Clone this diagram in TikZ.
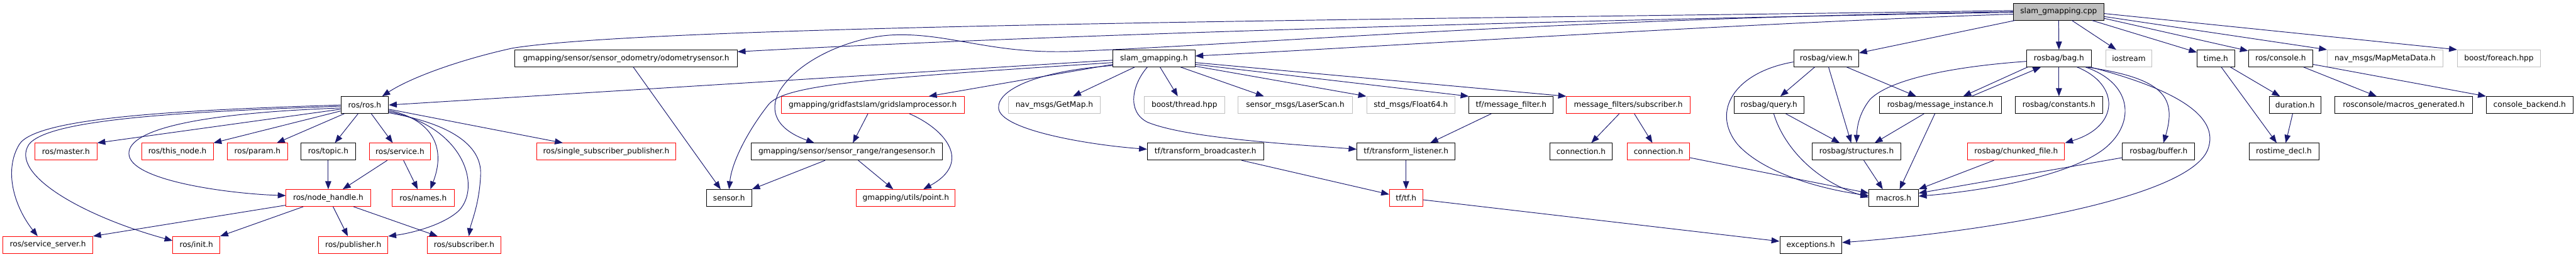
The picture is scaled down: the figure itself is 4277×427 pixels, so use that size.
\documentclass[tikz,border=0pt]{standalone}
\usepackage{fontspec}
\setmainfont{DejaVu Sans}
\usepackage{tikz}
\usetikzlibrary{arrows.meta, calc}

\definecolor{edgeblue}{HTML}{191970}
\definecolor{lightgrey}{HTML}{BFBFBF}

\begin{document}
\begin{tikzpicture}[
    x=0.75pt, y=-0.75pt,
    box/.style={rectangle, draw=black, line width=0.75pt, fill=white, minimum height=21pt, inner sep=2pt, font=\fontsize{9.5pt}{11pt}\selectfont},
    file/.style={box},
    redfile/.style={box, draw=red},
    extfile/.style={box, draw=lightgrey},
    mainfile/.style={box, fill=lightgrey},
    wd/.style={minimum width=#1*0.75pt},
    arrow/.style={-{Triangle[length=10pt, width=7.5pt]}, draw=edgeblue, line width=0.75pt}
]
    \useasboundingbox (0,0) rectangle (4277,427);

    % row 0
    \node[mainfile, wd=150] (slamcpp) at (3418,19.5) {slam\_gmapping.cpp};

    % row 1
    \node[file, wd=369] (odometry) at (1039.5,97) {gmapping/sensor/sensor\_odometry/odometrysensor.h};
    \node[file, wd=136] (slamh) at (1916,97) {slam\_gmapping.h};
    \node[file, wd=108] (view) at (3032,97) {rosbag/view.h};
    \node[file, wd=107] (bag) at (3418.5,97) {rosbag/bag.h};
    \node[extfile, wd=77] (iostream) at (3534.5,97) {iostream};
    \node[file, wd=62] (time) at (3679,97) {time.h};
    \node[file, wd=107] (console) at (3786.5,97) {ros/console.h};
    \node[extfile, wd=192] (mapmeta) at (3960,97) {nav\_msgs/MapMetaData.h};
    \node[extfile, wd=138] (foreach) at (4149,97) {boost/foreach.hpp};

    % row 2
    \node[file, wd=79] (rosh) at (605.5,174.5) {ros/ros.h};
    \node[redfile, wd=304] (gridslam) at (1449,174.5) {gmapping/gridfastslam/gridslamprocessor.h};
    \node[extfile, wd=153] (getmap) at (1750.5,174.5) {nav\_msgs/GetMap.h};
    \node[extfile, wd=133] (thread) at (1966.5,174.5) {boost/thread.hpp};
    \node[extfile, wd=191] (laserscan) at (2150.5,174.5) {sensor\_msgs/LaserScan.h};
    \node[extfile, wd=147] (float) at (2342.5,174.5) {std\_msgs/Float64.h};
    \node[file, wd=140] (msgfilter) at (2509,174.5) {tf/message\_filter.h};
    \node[redfile, wd=205] (mfsub) at (2703.5,174.5) {message\_filters/subscriber.h};
    \node[file, wd=116] (query) at (2937,174.5) {rosbag/query.h};
    \node[file, wd=203] (msginst) at (3221.5,174.5) {rosbag/message\_instance.h};
    \node[file, wd=145] (constants) at (3418.5,174.5) {rosbag/constants.h};
    \node[file, wd=85] (duration) at (3810.5,174.5) {duration.h};
    \node[file, wd=228] (macrosgen) at (3991,174.5) {rosconsole/macros\_generated.h};
    \node[file, wd=144] (backend) at (4200,174.5) {console\_backend.h};

    % row 3
    \node[redfile, wd=103] (master) at (109.5,252) {ros/master.h};
    \node[redfile, wd=119] (thisnode) at (294.5,252) {ros/this\_node.h};
    \node[redfile, wd=101] (param) at (427.5,252) {ros/param.h};
    \node[file, wd=90] (topic) at (545,252) {ros/topic.h};
    \node[redfile, wd=102] (service) at (664,252) {ros/service.h};
    \node[redfile, wd=231] (ssp) at (1006.5,252) {ros/single\_subscriber\_publisher.h};
    \node[file, wd=318] (range) at (1406,252) {gmapping/sensor/sensor\_range/rangesensor.h};
    \node[file, wd=193] (broadcaster) at (2001.5,252) {tf/transform\_broadcaster.h};
    \node[file, wd=163] (listener) at (2334.5,252) {tf/transform\_listener.h};
    \node[file, wd=104] (conn) at (2625,252) {connection.h};
    \node[redfile, wd=103] (connred) at (2753.5,252) {connection.h};
    \node[file, wd=147] (structures) at (3082.5,252) {rosbag/structures.h};
    \node[redfile, wd=161] (chunked) at (3347.5,252) {rosbag/chunked\_file.h};
    \node[file, wd=120] (buffer) at (3584,252) {rosbag/buffer.h};
    \node[file, wd=116] (rostime) at (3792,252) {rostime\_decl.h};

    % row 4
    \node[redfile, wd=140] (nodehandle) at (545,329) {ros/node\_handle.h};
    \node[redfile, wd=103] (names) at (702.5,329) {ros/names.h};
    \node[file, wd=75] (sensor) at (1210.5,329) {sensor.h};
    \node[redfile, wd=164] (point) at (1504,329) {gmapping/utils/point.h};
    \node[redfile, wd=55] (tf) at (2334.5,329) {tf/tf.h};
    \node[file, wd=82] (macros) at (3144,329) {macros.h};

    % row 5
    \node[redfile, wd=149] (srvserver) at (79.5,407) {ros/service\_server.h};
    \node[redfile, wd=78] (init) at (326,407) {ros/init.h};
    \node[redfile, wd=115] (publisher) at (586.5,407) {ros/publisher.h};
    \node[redfile, wd=123] (subscriber) at (770.5,407) {ros/subscriber.h};
    \node[file, wd=103] (exceptions) at (3006.5,407) {exceptions.h};

    % includes of slam_gmapping.cpp
    \draw[arrow] ($(slamcpp.west)+(0,-2)$) .. controls (2400,32) and (1100,40) .. (851,80) .. controls (760,100) and (680,130) .. ($(rosh.north)+(29,0)$);
    \draw[arrow] ($(slamcpp.west)+(0,1)$) .. controls (2500,35) and (1700,60) .. ($(odometry.east)+(0,-11)$);
    \draw[arrow] (slamcpp.west) .. controls (2600,30) and (2050,75) .. (1790,85) .. controls (1650,92) and (1580,55) .. (1486,58) .. controls (1420,60) and (1330,95) .. (1295,150) .. controls (1275,185) and (1290,215) .. ($(range.north)+(-54,0)$);
    \draw[arrow] ($(slamcpp.west)+(0,4)$) .. controls (2900,38) and (2250,80) .. ($(slamh.east)+(0,-4)$);
    \draw[arrow] ($(slamcpp.south west)+(3,0)$) -- ($(view.east)+(0,-9)$);
    \draw[arrow] (slamcpp.south) -- (bag.north);
    \draw[arrow] ($(slamcpp.south)+(22,0)$) -- ($(iostream.north)+(-21,0)$);
    \draw[arrow] ($(slamcpp.south east)+(-20,0)$) -- ($(time.west)+(0,-10)$);
    \draw[arrow] ($(slamcpp.east)+(0,11)$) -- ($(console.north west)+(0,2)$);
    \draw[arrow] ($(slamcpp.east)+(0,8)$) -- (mapmeta.north west);
    \draw[arrow] ($(slamcpp.east)+(0,3)$) -- (foreach.north west);

    % includes of slam_gmapping.h
    \draw[arrow] ($(slamh.west)+(0,3)$) -- (rosh.east);
    \draw[arrow] ($(slamh.west)+(0,7)$) .. controls (1450,130) and (1300,140) .. (1275,175) .. controls (1240,220) and (1215,270) .. (sensor.north);
    \draw[arrow] ($(slamh.west)+(0,10)$) -- ($(gridslam.north)+(93,0)$);
    \draw[arrow] ($(slamh.west)+(0,12)$) .. controls (1720,118) and (1655,150) .. (1658,180) .. controls (1661,215) and (1800,240) .. ($(broadcaster.west)+(0,-4)$);
    \draw[arrow] ($(slamh.south)+(-32,0)$) -- ($(getmap.north)+(31,0)$);
    \draw[arrow] ($(slamh.south)+(10,0)$) -- ($(thread.north)+(-11,0)$);
    \draw[arrow] ($(slamh.south)+(44,0)$) -- ($(laserscan.north)+(-52,0)$);
    \draw[arrow] ($(slamh.south)+(-11,0)$) .. controls (1880,140) and (1870,185) .. (1905,203) .. controls (1970,230) and (2150,240) .. ($(listener.west)+(0,-4)$);
    \draw[arrow] ($(slamh.east)+(0,13)$) -- (float.north west);
    \draw[arrow] ($(slamh.east)+(0,10)$) -- (msgfilter.north west);
    \draw[arrow] ($(slamh.east)+(0,7)$) -- (mfsub.north west);

    % gmapping
    \draw[arrow] ($(gridslam.south)+(-8,0)$) -- ($(range.north)+(10,0)$);
    \draw[arrow] ($(gridslam.south)+(61,0)$) .. controls (1570,215) and (1615,270) .. ($(point.north)+(29,0)$);
    \draw[arrow] ($(range.south)+(19,0)$) -- ($(point.north)+(-21,0)$);
    \draw[arrow] ($(range.south)+(-36,0)$) -- (sensor.north east);
    \draw[arrow] ($(odometry.south)+(12,0)$) -- ($(sensor.north)+(-14,0)$);

    % tf and message_filters
    \draw[arrow] ($(broadcaster.south)+(60,0)$) -- ($(tf.west)+(0,-6)$);
    \draw[arrow] (listener) -- (tf);
    \draw[arrow] ($(msgfilter.south)+(-33,0)$) -- ($(listener.north)+(40,0)$);
    \draw[arrow] ($(mfsub.south)+(-15,0)$) -- ($(conn.north)+(17,0)$);
    \draw[arrow] ($(mfsub.south)+(10,0)$) -- ($(connred.north)+(-10,0)$);
    \draw[arrow] ($(connred.east)+(0,10)$) -- ($(macros.west)+(0,-8)$);
    \draw[arrow] ($(tf.east)+(0,3)$) -- ($(exceptions.west)+(0,-6)$);

    % rosbag
    \draw[arrow] ($(view.south)+(-19,0)$) -- ($(query.north)+(19,0)$);
    \draw[arrow] ($(view.south)+(4,0)$) -- ($(structures.north)+(-9,0)$);
    \draw[arrow] ($(view.south)+(34,0)$) -- ($(msginst.north)+(-40,0)$);
    \draw[arrow] ($(view.west)+(0,6)$) .. controls (2880,120) and (2840,185) .. (2885,240) .. controls (2930,290) and (3030,315) .. ($(macros.west)+(0,-4)$);
    \draw[arrow] ($(query.south)+(28,0)$) -- ($(structures.north)+(-28,0)$);
    \draw[arrow] ($(query.south)+(8,0)$) .. controls (2960,240) and (3010,300) .. ($(macros.west)+(0,-1)$);
    \draw[arrow] ($(msginst.south)+(-27,0)$) -- ($(structures.north)+(30,0)$);
    \draw[arrow] ($(msginst.south)+(-9,0)$) -- ($(macros.north)+(10,0)$);
    \draw[arrow] ($(msginst.north)+(52,0)$) -- ($(bag.south)+(-30,0)$);
    \draw[arrow] ($(structures.south)+(12,0)$) -- ($(macros.north)+(-18,0)$);
    \draw[arrow] ($(bag.south west)+(2,0)$) -- ($(msginst.north)+(38,0)$);
    \draw[arrow] ($(bag.west)+(0,5)$) .. controls (3250,110) and (3140,130) .. (3105,165) .. controls (3085,190) and (3083,215) .. (structures.north);
    \draw[arrow] (bag) -- (constants);
    \draw[arrow] ($(bag.south)+(30,0)$) .. controls (3520,140) and (3520,210) .. (chunked.north east);
    \draw[arrow] ($(bag.south)+(44,0)$) .. controls (3545,140) and (3545,210) .. (3490,250) .. controls (3420,300) and (3260,320) .. ($(macros.east)+(0,-3)$);
    \draw[arrow] ($(bag.south east)+(-8,0)$) .. controls (3590,130) and (3615,160) .. ($(buffer.north)+(8,0)$);
    \draw[arrow] ($(bag.south east)+(-2,0)$) .. controls (3600,145) and (3690,190) .. (3665,250) .. controls (3630,330) and (3300,385) .. ($(exceptions.east)+(0,-4)$);
    \draw[arrow] ($(chunked.south)+(-37,0)$) -- (macros.north east);
    \draw[arrow] ($(buffer.west)+(0,10)$) -- ($(macros.east)+(0,-8)$);

    % time and console
    \draw[arrow] ($(time.south)+(24,0)$) -- ($(duration.north)+(-25,0)$);
    \draw[arrow] ($(time.south)+(9,0)$) -- ($(rostime.north)+(-12,0)$);
    \draw[arrow] ($(duration.south)+(-4,0)$) -- ($(rostime.north)+(3,0)$);
    \draw[arrow] ($(console.south)+(38,0)$) -- ($(macrosgen.north)+(-45,0)$);
    \draw[arrow] ($(console.east)+(0,10)$) -- (backend.north west);

    % includes of ros/ros.h
    \draw[arrow] ($(rosh.west)+(0,7)$) -- (master.north east);
    \draw[arrow] ($(rosh.west)+(0,10)$) -- (thisnode.north east);
    \draw[arrow] ($(rosh.south west)+(6,0)$) -- ($(param.north)+(32,0)$);
    \draw[arrow] ($(rosh.south)+(-11,0)$) -- ($(topic.north)+(11,0)$);
    \draw[arrow] ($(rosh.south)+(11,0)$) -- ($(service.north)+(-12,0)$);
    \draw[arrow] (rosh.west) .. controls (300,183) and (60,195) .. (32,240) .. controls (5,285) and (25,345) .. ($(srvserver.north)+(-17,0)$);
    \draw[arrow] ($(rosh.west)+(0,2)$) .. controls (300,186) and (80,198) .. (48,240) .. controls (15,290) and (140,360) .. ($(init.west)+(0,-7)$);
    \draw[arrow] ($(rosh.west)+(0,5)$) .. controls (330,188) and (214,215) .. (214,255) .. controls (214,300) and (380,322) .. ($(nodehandle.west)+(0,-4)$);
    \draw[arrow] ($(rosh.east)+(0,7)$) -- ($(ssp.north)+(-72,0)$);
    \draw[arrow] ($(rosh.east)+(0,9)$) .. controls (705,195) and (745,235) .. ($(names.north)+(12,0)$);
    \draw[arrow] ($(rosh.east)+(0,11)$) .. controls (770,210) and (800,310) .. (762,350) .. controls (735,375) and (680,388) .. (publisher.north east);
    \draw[arrow] ($(rosh.east)+(0,13)$) .. controls (745,205) and (800,240) .. (798,290) .. controls (796,340) and (782,370) .. ($(subscriber.north)+(8,0)$);
    \draw[arrow] ($(service.south)+(-21,0)$) -- ($(nodehandle.north)+(24,0)$);
    \draw[arrow] ($(service.south)+(6,0)$) -- ($(names.north)+(-9,0)$);
    \draw[arrow] (topic) -- (nodehandle);
    \draw[arrow] ($(nodehandle.west)+(0,12)$) -- (srvserver.north east);
    \draw[arrow] ($(nodehandle.south west)+(29,0)$) -- (init.north east);
    \draw[arrow] ($(nodehandle.south)+(8,0)$) -- ($(publisher.north)+(-9,0)$);
    \draw[arrow] ($(nodehandle.south)+(42,0)$) -- ($(subscriber.north west)+(18,0)$);
\end{tikzpicture}
\end{document}
